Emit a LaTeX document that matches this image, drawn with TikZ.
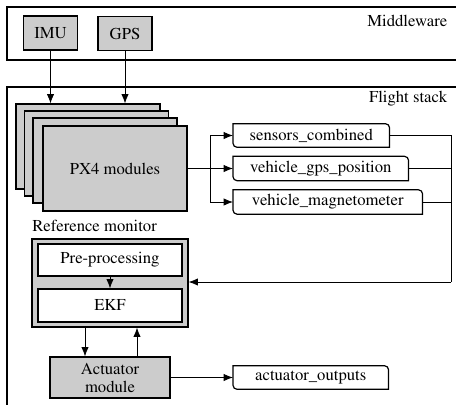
\documentclass[tikz,border=0pt]{standalone}
\usepackage[T1]{fontenc}
\renewcommand{\rmdefault}{ptm}
\usetikzlibrary{shapes.geometric, arrows.meta}
\usetikzlibrary{positioning}
\tikzstyle{arrow} = [semithick,->,>={Latex[length=7pt,width=5.5pt]}]
\tikzstyle{frame} = [line width=1.4pt]
\tikzstyle{block} = [draw, line width=0.9pt, fill=gray!40, align=center]
\tikzstyle{stage} = [draw, line width=0.9pt, fill=white, minimum width=108pt]
\tikzstyle{topic} = [minimum height=17.25pt, anchor=west]

\begin{document}
\begin{tikzpicture}[x=0.75pt, y=-0.75pt, font=\rmfamily\fontsize{12.5}{13.5}\selectfont]
        \clip (0,0) rectangle (456,404);
        % Middleware
        \draw[frame] (7,7) rectangle (470,60);
        \node[anchor=east] (mw) at (452,21) {Middleware};
        \node[block, minimum width=40.5pt, minimum height=25.5pt] (imu) at (50.5,33) {IMU};
        \node[block, minimum width=40.5pt, minimum height=25.5pt] (gps) at (125,33.5) {GPS};

        % Flight stack
        \draw[frame] (7,87) rectangle (470,430);
        \node[anchor=east] (fs) at (452,99) {Flight stack};

        % PX4 modules (stacked layers)
        \foreach \i/\x/\y in {0/88/146.5, 1/96.5/153.5, 2/105/160.5}
            \node[block, minimum width=108pt, minimum height=63.75pt] (px\i) at (\x,\y) {};
        \node[block, minimum width=108pt, minimum height=63.75pt] (px) at (115,168.5) {PX4 modules};
        \draw[arrow] (imu) -- (imu |- px0.north);
        \draw[arrow] (gps) -- (gps |- px0.north);

        % Topics
        \node[topic, minimum width=117pt] (sc) at (233,135.5) {sensors\_combined};
        \node[topic, minimum width=131.25pt] (gp) at (233,168.5) {vehicle\_gps\_position};
        \node[topic, minimum width=141.75pt] (mg) at (233,202) {vehicle\_magnetometer};
        \node[topic, minimum width=116.25pt] (ao) at (233,377.5) {actuator\_outputs};
        \foreach \t in {sc,gp,mg,ao}
            \draw[line width=0.9pt] (\t.north west) -- ([xshift=-3pt]\t.north east)
                arc[start angle=90, end angle=0, radius=3pt] -- (\t.south east)
                -- ([xshift=3pt]\t.south west) arc[start angle=270, end angle=180, radius=3pt] -- cycle;

        \coordinate (br) at (210,168.5);
        \draw[semithick] (px.east) -- (br);
        \draw[arrow] (br) |- (sc.west);
        \draw[arrow] (br) -- (gp.west);
        \draw[arrow] (br) |- (mg.west);

        % Reference monitor
        \node[block, minimum width=117pt, minimum height=66pt] (ref) at (110,283) {};
        \node[above right=5pt and 0.5pt of ref.north west, inner sep=0pt] (reflbl) {Reference monitor};
        \node[stage, minimum height=24pt] (pre) at (110,260) {Pre-processing};
        \node[stage, minimum height=24.75pt] (ekf) at (110,305.5) {EKF};
        \draw[arrow] (pre) -- (ekf);

        \coordinate (col) at (451,282);
        \draw[semithick] (sc.east) -- (sc.east -| col) -- (col);
        \draw[semithick] (gp.east) -- (gp.east -| col);
        \draw[semithick] (mg.east) -- (mg.east -| col);
        \draw[arrow] (col) -- (col -| ref.east);

        % Actuator
        \node[block, minimum width=90pt, minimum height=30.75pt] (act) at (110,377.5) {Actuator\\module};
        \draw[arrow] ([xshift=-18.75pt]ref.south) -- ([xshift=-18.75pt]act.north);
        \draw[arrow] ([xshift=20.25pt]act.north) -- ([xshift=20.25pt]ref.south);
        \draw[arrow] (act.east) -- (ao.west);
\end{tikzpicture}
\end{document}
